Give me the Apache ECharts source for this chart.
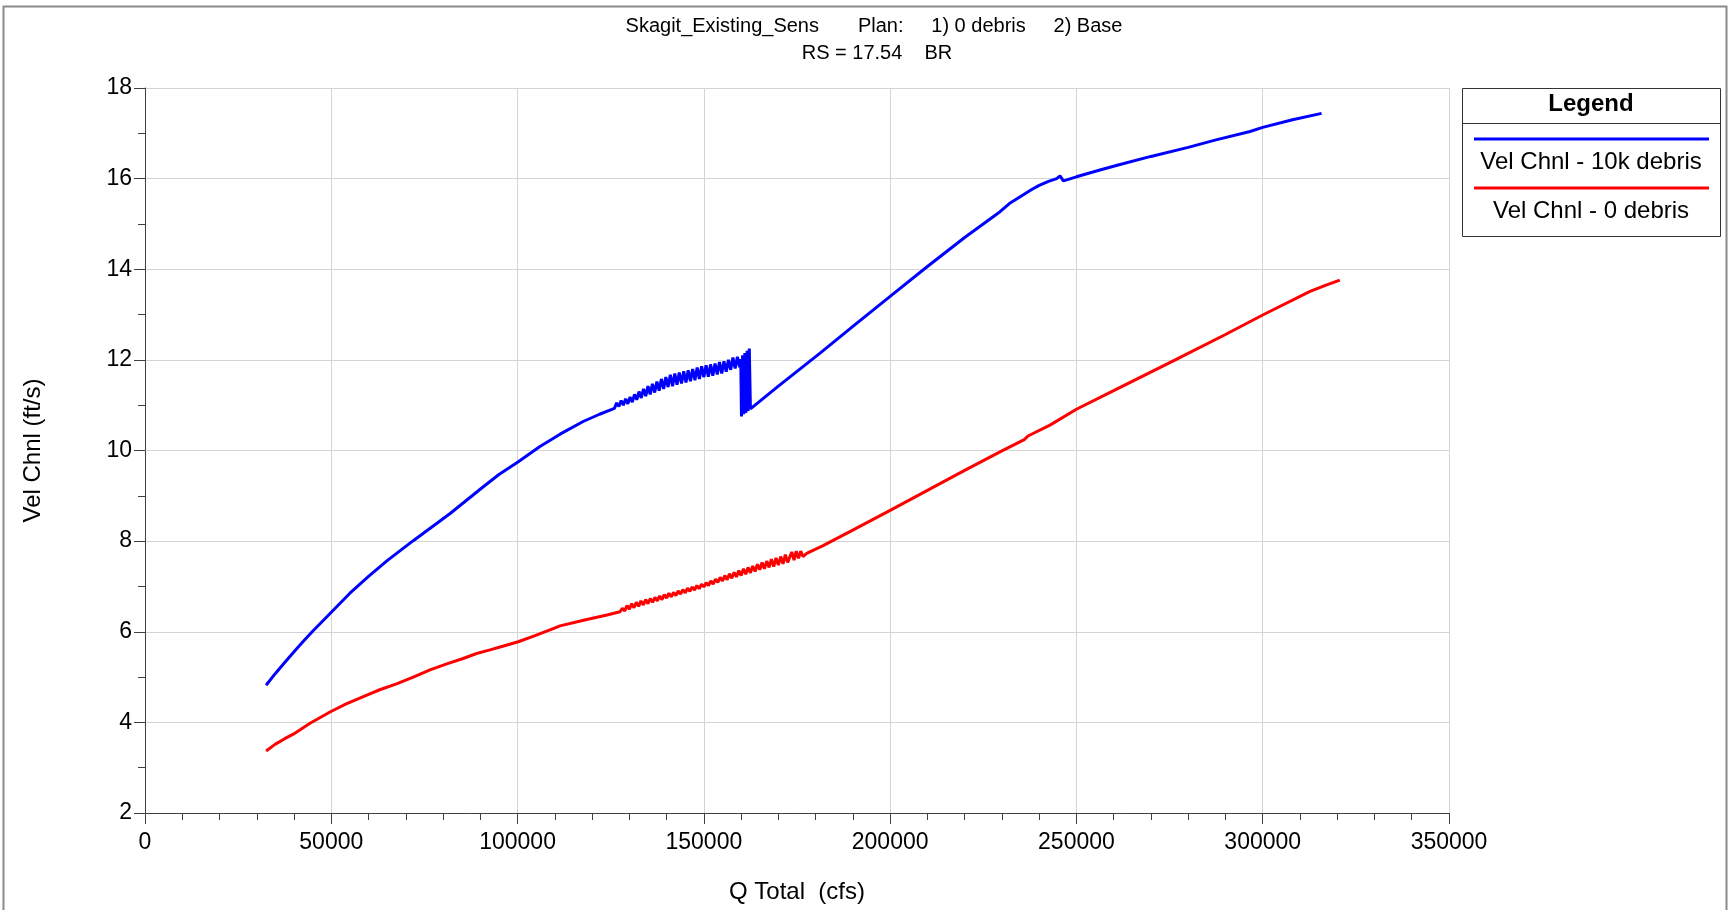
<!DOCTYPE html>
<html>
<head>
<meta charset="utf-8">
<script src="https://cdn.jsdelivr.net/npm/echarts@6/dist/echarts.min.js"></script>
<style>
html,body{margin:0;padding:0;background:#fff;}
#chart{width:1732px;height:910px;}
</style>
</head>
<body>
<div id="chart"></div>
<script>
// ---- Text ----
const titleLine1 = 'Skagit_Existing_Sens       Plan:     1) 0 debris     2) Base';
const titleLine2 = 'RS = 17.54    BR';
const xAxisName = 'Q Total  (cfs)';
const yAxisName = 'Vel Chnl (ft/s)';
const legendTitle = 'Legend';
const seriesNames = ['Vel Chnl - 10k debris', 'Vel Chnl - 0 debris'];

// ---- Axis ticks ----
const xTicks = [0, 50000, 100000, 150000, 200000, 250000, 300000, 350000];
const yTicks = [2, 4, 6, 8, 10, 12, 14, 16, 18];

// ---- Series: [Q total (cfs), velocity (ft/s)] ----
const velChnl10kDebris = [
  [32500,4.82],[35000,5.08],[37500,5.32],[40000,5.56],[42500,5.79],[45000,6.01],[47500,6.22],
  [50000,6.43],[55000,6.85],[60000,7.22],[65000,7.57],[72000,8.01],[81900,8.61],[90800,9.20],
  [95000,9.47],[100200,9.75],[106000,10.09],[111400,10.36],[117600,10.64],[122000,10.80],
  [126000,10.93],[126600,11.05],[127200,10.97],[127800,11.10],[128400,11.00],[129000,11.14],
  [129600,11.03],[130200,11.18],[130800,11.07],[131400,11.24],[132000,11.12],[132600,11.30],
  [133200,11.16],[133800,11.36],[134400,11.20],[135000,11.42],[135600,11.24],[136200,11.47],
  [136800,11.28],[137400,11.52],[138000,11.32],[138600,11.58],[139200,11.36],[139800,11.62],
  [140400,11.40],[141000,11.67],[141600,11.42],[142200,11.70],[142800,11.45],[143400,11.72],
  [144000,11.48],[144600,11.75],[145200,11.50],[145800,11.77],[146400,11.53],[147000,11.80],
  [147600,11.55],[148200,11.83],[148800,11.58],[149400,11.86],[150000,11.62],[150600,11.88],
  [151200,11.63],[151800,11.90],[152400,11.65],[153000,11.92],[153600,11.68],[154200,11.95],
  [154800,11.70],[155400,11.97],[156000,11.74],[156600,12.00],[157200,11.78],[157800,12.05],
  [158400,11.81],[159000,12.07],[159600,11.84],[159900,12.02],[160100,10.75],[160400,12.10],
  [160700,10.80],[161000,12.15],[161300,10.83],[161600,12.20],[161900,10.87],[162200,12.25],
  [162500,10.92],[170000,11.42],[181200,12.15],[190000,12.74],[200000,13.40],[210000,14.06],
  [220000,14.70],[229500,15.27],[232000,15.45],[234900,15.60],[238000,15.76],[240000,15.85],
  [242500,15.94],[244700,16.00],[245600,16.06],[246500,15.95],[250000,16.04],[256300,16.19],
  [261200,16.30],[270000,16.49],[280000,16.69],[287200,16.85],[296600,17.04],[300000,17.13],
  [308000,17.30],[315800,17.44]
];

const velChnl0Debris = [
  [32500,3.37],[35000,3.52],[37500,3.64],[39800,3.74],[44300,3.98],[49900,4.24],[54000,4.41],
  [58600,4.57],[63000,4.72],[67500,4.85],[72000,5.00],[76500,5.16],[81000,5.29],[85400,5.41],
  [89000,5.52],[92600,5.60],[96000,5.68],[100200,5.78],[104500,5.91],[108700,6.04],[111400,6.13],
  [118000,6.26],[124000,6.37],[127500,6.44],[128125,6.52],[128750,6.46],[129375,6.58],
  [130000,6.50],[130625,6.62],[131250,6.53],[131875,6.65],[132500,6.56],[133125,6.68],
  [133750,6.59],[134375,6.71],[135000,6.62],[135625,6.73],[136250,6.65],[136875,6.76],
  [137500,6.68],[138125,6.79],[138750,6.71],[139375,6.82],[140000,6.74],[140625,6.85],
  [141250,6.77],[141875,6.87],[142500,6.80],[143125,6.90],[143750,6.83],[144375,6.93],
  [145000,6.86],[145625,6.96],[146250,6.89],[146875,6.99],[147500,6.92],[148125,7.02],
  [148750,6.95],[149375,7.05],[150000,6.99],[150625,7.08],[151250,7.02],[151875,7.12],
  [152500,7.05],[153125,7.16],[153750,7.09],[154375,7.20],[155000,7.12],[155625,7.24],
  [156250,7.15],[156875,7.28],[157500,7.18],[158125,7.31],[158750,7.21],[159375,7.35],
  [160000,7.24],[160625,7.39],[161250,7.27],[161875,7.42],[162500,7.30],[163125,7.45],
  [163750,7.33],[164375,7.49],[165000,7.37],[165625,7.53],[166250,7.39],[166875,7.56],
  [167500,7.42],[168125,7.60],[168750,7.44],[169375,7.63],[170000,7.47],[170625,7.66],
  [171250,7.50],[171875,7.70],[172500,7.53],[173000,7.49],[173600,7.76],[174200,7.58],
  [174800,7.78],[175400,7.62],[176000,7.78],[176600,7.66],[177600,7.73],[182000,7.90],
  [189200,8.21],[200000,8.68],[210000,9.12],[220000,9.56],[230000,9.99],[236000,10.24],
  [237000,10.32],[242900,10.56],[250000,10.91],[260000,11.32],[276800,12.01],[290000,12.56],
  [300000,12.99],[312700,13.51],[317000,13.65],[320700,13.76]
];

const seriesColors = ['#0000ff', '#ff0000'];

const chart = echarts.init(document.getElementById('chart'), null, {renderer: 'canvas'});
const FONT = '"Liberation Sans", Arial, sans-serif';

const legendX = 1462, legendY = 88, legendW = 258, legendH = 148;

const option = {
  animation: false,
  backgroundColor: '#ffffff',
  title: [
    {text: titleLine1, left: 869, top: 11, textAlign: 'center',
     textStyle: {fontFamily: FONT, fontSize: 20, fontWeight: 'normal', color: '#000'}},
    {text: titleLine2, left: 872, top: 38, textAlign: 'center',
     textStyle: {fontFamily: FONT, fontSize: 20, fontWeight: 'normal', color: '#000'}}
  ],
  grid: {left: 145, right: 283, top: 88, bottom: 97, show: false},
  xAxis: {
    type: 'value', min: xTicks[0], max: xTicks[xTicks.length - 1], interval: xTicks[1] - xTicks[0],
    name: xAxisName, nameLocation: 'middle', nameGap: 67,
    nameTextStyle: {fontFamily: FONT, fontSize: 24, color: '#000'},
    axisLine: {show: true, onZero: false, lineStyle: {color: '#404040', width: 1}},
    axisTick: {show: true, inside: false, length: 11, lineStyle: {color: '#404040'}},
    minorTick: {show: true, splitNumber: 5, length: 7, lineStyle: {color: '#404040'}},
    splitLine: {show: true, lineStyle: {color: '#d4d4d4', width: 1}},
    axisLabel: {fontFamily: FONT, fontSize: 23, color: '#000', margin: 18,
      formatter: function (v) { return String(v); }}
  },
  yAxis: {
    type: 'value', min: yTicks[0], max: yTicks[yTicks.length - 1], interval: yTicks[1] - yTicks[0],
    name: yAxisName, nameLocation: 'middle', nameGap: 100, nameRotate: 90,
    nameTextStyle: {fontFamily: FONT, fontSize: 24, color: '#000'},
    axisLine: {show: true, onZero: false, lineStyle: {color: '#404040', width: 1}},
    axisTick: {show: true, inside: false, length: 11, lineStyle: {color: '#404040'}},
    minorTick: {show: true, splitNumber: 2, length: 7, lineStyle: {color: '#404040'}},
    splitLine: {show: true, lineStyle: {color: '#d4d4d4', width: 1}},
    axisLabel: {fontFamily: FONT, fontSize: 23, color: '#000', margin: 13}
  },
  series: [
    {name: seriesNames[0], type: 'line', data: velChnl10kDebris, showSymbol: false, symbol: 'none',
     lineStyle: {color: seriesColors[0], width: 3}, itemStyle: {color: seriesColors[0]}, z: 3},
    {name: seriesNames[1], type: 'line', data: velChnl0Debris, showSymbol: false, symbol: 'none',
     lineStyle: {color: seriesColors[1], width: 3}, itemStyle: {color: seriesColors[1]}, z: 3}
  ],
  graphic: [
    {type: 'rect', silent: true, shape: {x: 3.5, y: 6.5, width: 1723, height: 920},
     style: {fill: 'none', stroke: '#8a8a8a', lineWidth: 2}},
    {type: 'rect', shape: {x: legendX + 0.5, y: legendY + 0.5, width: legendW, height: legendH},
     style: {fill: '#fff', stroke: '#333', lineWidth: 1}},
    {type: 'line', shape: {x1: legendX, y1: 123.5, x2: legendX + legendW + 1, y2: 123.5},
     style: {stroke: '#333', lineWidth: 1}},
    {type: 'text', x: legendX + legendW / 2, y: 104,
     style: {text: legendTitle, font: 'bold 24px ' + FONT, fill: '#000', align: 'center', verticalAlign: 'middle'}},
    {type: 'line', shape: {x1: 1474, y1: 139, x2: 1709, y2: 139},
     style: {stroke: seriesColors[0], lineWidth: 3}},
    {type: 'text', x: legendX + legendW / 2, y: 162,
     style: {text: seriesNames[0], font: '24px ' + FONT, fill: '#000', align: 'center', verticalAlign: 'middle'}},
    {type: 'line', shape: {x1: 1474, y1: 188, x2: 1709, y2: 188},
     style: {stroke: seriesColors[1], lineWidth: 3}},
    {type: 'text', x: legendX + legendW / 2, y: 211,
     style: {text: seriesNames[1], font: '24px ' + FONT, fill: '#000', align: 'center', verticalAlign: 'middle'}}
  ]
};
chart.setOption(option);
</script>
</body>
</html>
